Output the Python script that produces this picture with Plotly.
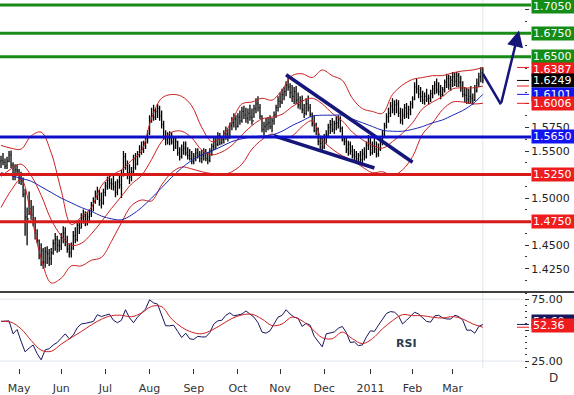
import pandas as pd
import plotly.graph_objects as go

# ---------------- data (GBP/USD daily) ----------------
dates = pd.bdate_range("2010-04-20", "2011-03-22")

highs = [
1.5450,1.5480,1.5420,1.5440,1.5500,1.5505,1.5380,1.5360,1.5360,
1.5310,1.5280,1.5220,1.5100,1.4900,1.5070,1.4980,1.4920,1.4800,1.4670,
1.4560,1.4520,1.4470,1.4480,1.4490,1.4460,1.4470,1.4560,1.4630,1.4600,1.4560,
1.4630,1.4700,1.4690,1.4600,1.4520,1.4530,1.4650,1.4690,1.4750,1.4770,
1.4840,1.4880,1.4860,1.4850,1.4880,1.4960,1.5010,1.5080,1.5120,1.5090,
1.5060,1.5100,1.5170,1.5230,1.5240,1.5210,1.5240,1.5180,1.5200,1.5240,
1.5300,1.5500,1.5480,1.5400,1.5360,1.5330,1.5460,1.5480,1.5500,1.5560,
1.5600,1.5610,1.5640,1.5720,1.5880,1.5960,1.5990,1.5960,1.6000,1.5980,
1.5930,1.5820,1.5720,1.5700,1.5710,1.5700,1.5660,1.5650,1.5610,1.5540,
1.5570,1.5600,1.5600,1.5540,1.5520,1.5500,1.5480,1.5530,1.5530,1.5500,
1.5510,1.5530,1.5520,1.5490,1.5530,1.5580,1.5640,1.5650,1.5700,1.5690,
1.5650,1.5720,1.5760,1.5740,1.5800,1.5860,1.5900,1.5880,1.5900,1.5930,
1.5970,1.5980,1.5960,1.5950,1.5990,1.5950,1.5990,1.6060,1.6080,1.6000,
1.5880,1.5810,1.5850,1.5860,1.5880,1.5850,1.5920,1.5990,1.6080,1.6120,
1.6160,1.6180,1.6240,1.6300,1.6220,1.6200,1.6180,1.6190,1.6120,1.6080,
1.6090,1.6000,1.6060,1.6090,1.6000,1.5910,1.5880,1.5800,1.5750,1.5660,
1.5640,1.5680,1.5720,1.5790,1.5830,1.5850,1.5820,1.5870,1.5880,1.5870,
1.5760,1.5660,1.5640,1.5610,1.5600,1.5560,1.5520,1.5500,1.5480,1.5500,
1.5520,1.5540,1.5600,1.5670,1.5640,1.5600,1.5650,1.5600,1.5580,1.5640,
1.5720,1.5800,1.5900,1.5960,1.6020,1.6060,1.6040,1.6050,1.6040,1.5960,
1.5950,1.6000,1.6010,1.5980,1.6030,1.6080,1.6230,1.6270,1.6200,1.6180,
1.6140,1.6120,1.6160,1.6100,1.6150,1.6200,1.6240,1.6270,1.6230,1.6200,
1.6180,1.6260,1.6320,1.6310,1.6300,1.6340,1.6330,1.6340,1.6330,1.6300,
1.6240,1.6180,1.6170,1.6160,1.6190,1.6110,1.6200,1.6270,1.6330,1.6390,
1.6387]

lows = [
1.5320,1.5350,1.5310,1.5310,1.5380,1.5320,1.5190,1.5190,1.5240,
1.5150,1.5140,1.5010,1.4600,1.4500,1.4820,1.4770,1.4700,1.4560,1.4520,
1.4350,1.4280,1.4250,1.4260,1.4300,1.4280,1.4290,1.4400,1.4440,1.4420,1.4430,
1.4450,1.4520,1.4490,1.4420,1.4370,1.4370,1.4450,1.4520,1.4540,1.4620,
1.4680,1.4730,1.4700,1.4710,1.4740,1.4800,1.4860,1.4940,1.4980,1.4920,
1.4890,1.4930,1.5020,1.5090,1.5100,1.5090,1.5080,1.5010,1.5030,1.5100,
1.5000,1.5230,1.5300,1.5200,1.5150,1.5180,1.5250,1.5300,1.5350,1.5430,
1.5460,1.5480,1.5520,1.5580,1.5670,1.5800,1.5820,1.5830,1.5850,1.5820,
1.5740,1.5620,1.5560,1.5570,1.5560,1.5570,1.5500,1.5520,1.5450,1.5400,
1.5420,1.5460,1.5450,1.5410,1.5400,1.5360,1.5360,1.5390,1.5420,1.5380,
1.5370,1.5400,1.5390,1.5360,1.5380,1.5450,1.5510,1.5520,1.5550,1.5560,
1.5570,1.5580,1.5620,1.5600,1.5630,1.5720,1.5750,1.5720,1.5750,1.5780,
1.5800,1.5840,1.5800,1.5790,1.5820,1.5780,1.5850,1.5900,1.5920,1.5840,
1.5700,1.5670,1.5700,1.5720,1.5730,1.5700,1.5780,1.5850,1.5920,1.5960,
1.6000,1.6040,1.6080,1.6140,1.6060,1.6020,1.6000,1.6000,1.5950,1.5940,
1.5900,1.5850,1.5880,1.5920,1.5860,1.5760,1.5700,1.5670,1.5560,1.5520,
1.5500,1.5520,1.5580,1.5640,1.5680,1.5700,1.5680,1.5720,1.5740,1.5700,
1.5600,1.5560,1.5480,1.5450,1.5460,1.5420,1.5390,1.5380,1.5360,1.5370,
1.5360,1.5400,1.5420,1.5510,1.5450,1.5460,1.5480,1.5430,1.5440,1.5500,
1.5560,1.5650,1.5740,1.5800,1.5860,1.5900,1.5880,1.5900,1.5860,1.5790,
1.5780,1.5840,1.5850,1.5840,1.5880,1.5950,1.6040,1.6110,1.6060,1.6020,
1.6000,1.5990,1.6020,1.5990,1.6020,1.6060,1.6100,1.6110,1.6090,1.6050,
1.6080,1.6120,1.6170,1.6150,1.6140,1.6180,1.6190,1.6180,1.6180,1.6130,
1.6070,1.6020,1.6000,1.6000,1.6010,1.5990,1.6030,1.6120,1.6180,1.6230,
1.6220]

closes = [
1.5400,1.5380,1.5340,1.5390,1.5460,1.5350,1.5230,1.5300,1.5290,
1.5210,1.5180,1.5040,1.4800,1.4780,1.4890,1.4820,1.4740,1.4620,1.4550,
1.4400,1.4440,1.4320,1.4430,1.4410,1.4360,1.4420,1.4520,1.4560,1.4500,1.4490,
1.4580,1.4630,1.4540,1.4460,1.4420,1.4470,1.4600,1.4560,1.4710,1.4680,
1.4790,1.4810,1.4740,1.4800,1.4830,1.4920,1.4960,1.5050,1.5040,1.4980,
1.4950,1.5060,1.5130,1.5190,1.5160,1.5150,1.5120,1.5060,1.5170,1.5140,
1.5250,1.5440,1.5350,1.5270,1.5220,1.5280,1.5420,1.5360,1.5460,1.5510,
1.5540,1.5580,1.5600,1.5690,1.5850,1.5900,1.5860,1.5920,1.5950,1.5870,
1.5780,1.5640,1.5620,1.5640,1.5630,1.5600,1.5540,1.5600,1.5480,1.5440,
1.5510,1.5530,1.5480,1.5450,1.5420,1.5390,1.5440,1.5480,1.5460,1.5420,
1.5450,1.5490,1.5420,1.5400,1.5500,1.5550,1.5600,1.5570,1.5660,1.5590,
1.5620,1.5690,1.5680,1.5650,1.5770,1.5800,1.5840,1.5760,1.5860,1.5820,
1.5920,1.5880,1.5850,1.5900,1.5860,1.5820,1.5950,1.6000,1.5960,1.5870,
1.5730,1.5760,1.5780,1.5800,1.5760,1.5820,1.5880,1.5960,1.6030,1.6020,
1.6100,1.6130,1.6200,1.6180,1.6120,1.6080,1.6130,1.6040,1.5990,1.6030,
1.5940,1.5900,1.6000,1.5960,1.5890,1.5790,1.5720,1.5740,1.5600,1.5580,
1.5540,1.5640,1.5670,1.5750,1.5780,1.5730,1.5790,1.5800,1.5830,1.5740,
1.5620,1.5600,1.5520,1.5570,1.5500,1.5460,1.5440,1.5420,1.5450,1.5410,
1.5470,1.5440,1.5560,1.5600,1.5480,1.5550,1.5520,1.5470,1.5520,1.5600,
1.5680,1.5770,1.5860,1.5900,1.5980,1.5940,1.5990,1.6000,1.5900,1.5830,
1.5880,1.5960,1.5900,1.5940,1.6000,1.6050,1.6180,1.6160,1.6110,1.6080,
1.6040,1.6080,1.6050,1.6060,1.6110,1.6160,1.6200,1.6150,1.6130,1.6100,
1.6150,1.6230,1.6270,1.6200,1.6250,1.6290,1.6240,1.6300,1.6230,1.6170,
1.6100,1.6090,1.6050,1.6080,1.6060,1.6040,1.6140,1.6220,1.6290,1.6330,
1.6249]
first_open = 1.5390

# Indicators read every 5 bars
bb_upper = [1.556,1.553,1.552,1.566,1.570,1.548,1.508,1.472,1.480,1.490,
            1.513,1.524,1.530,1.540,1.550,1.585,1.606,1.610,1.608,1.598,
            1.575,1.560,1.565,1.582,1.600,1.602,1.606,1.604,1.615,1.630,
            1.632,1.628,1.636,1.630,1.625,1.606,1.595,1.592,1.590,1.610,
            1.620,1.626,1.628,1.630,1.630,1.633,1.635,1.636,1.6387]
bb_mid = [1.523,1.531,1.536,1.524,1.503,1.477,1.460,1.450,1.452,1.462,
          1.475,1.489,1.502,1.515,1.524,1.541,1.560,1.570,1.571,1.564,
          1.551,1.546,1.549,1.556,1.567,1.577,1.584,1.586,1.589,1.597,
          1.603,1.606,1.600,1.590,1.582,1.570,1.562,1.556,1.553,1.560,
          1.569,1.580,1.595,1.602,1.608,1.616,1.617,1.617,1.619]
bb_lower = [1.490,1.508,1.520,1.482,1.436,1.410,1.415,1.428,1.428,1.434,
            1.437,1.454,1.474,1.492,1.498,1.497,1.514,1.527,1.533,1.531,
            1.528,1.526,1.525,1.528,1.536,1.552,1.562,1.568,1.564,1.566,
            1.576,1.582,1.562,1.552,1.545,1.540,1.533,1.527,1.528,1.524,
            1.530,1.544,1.568,1.580,1.594,1.602,1.602,1.600,1.6006]
sma50 = [1.527,1.524,1.521,1.518,1.512,1.506,1.500,1.495,1.490,1.486,
         1.481,1.478,1.477,1.482,1.490,1.500,1.511,1.522,1.532,1.540,
         1.546,1.550,1.555,1.560,1.563,1.565,1.566,1.567,1.571,1.577,
         1.582,1.587,1.588,1.588,1.588,1.584,1.580,1.576,1.572,1.571,
         1.571,1.573,1.576,1.580,1.583,1.588,1.593,1.600,1.6101]

# RSI read every 2 bars, its signal every 5 bars
rsi = [57,57,57.5,47,50.5,41,32.5,35.5,38,31,
       26,34,35,38,40,43.5,47,43,46,52,
       55,55.5,56,57,62.5,61,62,63,58,56,
       58,66.5,60,56,60.5,64,67,74.5,72,71,
       63,53.5,53.5,54,49,44,47.5,43,42.5,45,
       44.5,44.5,48,55,57.5,58,62,64,61.5,62,
       63,65.5,63,60.5,56,48.5,47.5,49.5,55,60.5,
       62,66.5,63,60.5,59.5,53,55.5,54,45,40.5,
       36.5,47,48,48.5,51.5,53,48,40,40.5,37.5,
       38,44.5,49.5,49,54,59,63.5,65,64.5,61.5,
       55,58,61,64.5,63,60,57,56.5,61.5,62,
       60,59,59,62,61,58,50,50,47.5,53,
       54.6]
rsi_signal = [57.2,56.4,51.1,41.7,33.8,32.9,38.7,43.9,48.9,54.2,
              58.8,61.7,62,60.8,63.9,69.2,69,59,52.4,48.4,
              47.1,50,54.6,59.4,62.3,62.8,59,53.7,55,60.6,
              57.5,51,43.9,43.1,48.4,43.1,39.1,43.1,51.1,57.7,
              62.5,61.7,61.7,60.4,59.8,60.9,59,55,52.36]

assert len(dates) == len(highs) == len(lows) == len(closes) == 241
for arr in (bb_upper, bb_mid, bb_lower, sma50, rsi_signal):
    assert len(arr) == 49
assert len(rsi) == 121

opens = [first_open] + closes[:-1]
ind_dates = dates[::5]
rsi_dates = dates[::2]

# horizontal levels and their labels
levels = [1.7050, 1.6750, 1.6500, 1.5650, 1.5250, 1.4750]
level_colors = ["#178a17", "#178a17", "#178a17", "#0d10c8", "#d61a1a", "#d61a1a"]
level_box = ["#158c15", "#158c15", "#158c15", "#1414f0", "#ee1c1c", "#ee1c1c"]
level_text = ["1.7050", "1.6750", "1.6500", "1.5650", "1.5250", "1.4750"]
level_shift = [-2, 0, 0, 0, 0, 0]

# price-axis tick labels (those hidden under the level boxes left blank)
price_ticks = [1.400, 1.425, 1.450, 1.475, 1.500, 1.525, 1.550, 1.575,
               1.600, 1.625, 1.650, 1.675, 1.700]
price_tick_text = ["", "1.4250", "1.4500", "", "1.5000", "", "1.5500", "1.5750",
                   "", "", "", "", ""]
rsi_ticks = [25, 50, 75]
rsi_tick_text = ["25.00", "", "75.00"]

# trend lines (analyst drawing)
wedge_top_x = ["2010-11-04", "2011-02-01"]
wedge_top_y = [1.6310, 1.5380]
wedge_bot_x = ["2010-10-27", "2011-01-05"]
wedge_bot_y = [1.5660, 1.5320]
proj_x = ["2011-03-22", "2011-04-04"]
proj_y = [1.6320, 1.5996]
arrow_tip = ("2011-04-15", 1.6780)

month_ticks = ["2010-05-03", "2010-06-01", "2010-07-01", "2010-08-02", "2010-09-01",
               "2010-10-01", "2010-11-01", "2010-12-01", "2011-01-03", "2011-02-01",
               "2011-03-01"]
month_labels = ["May", "Jun", "Jul", "Aug", "Sep", "Oct", "Nov", "Dec", "2011", "Feb", "Mar"]

# ---------------- figure ----------------
W, H = 574, 395
ML, MR, MT, MB = 0, 50, 0, 22
PW = W - ML - MR
PH = H - MT - MB
split = 77 / PH
FONT = "DejaVu Sans"
NAVY = "#15157a"
BBRED = "#cc2020"

fig = go.Figure()

fig.add_trace(go.Ohlc(
    x=dates, open=opens, high=highs, low=lows, close=closes,
    increasing=dict(line=dict(color="black", width=1.3)),
    decreasing=dict(line=dict(color="black", width=1.3)),
    tickwidth=0.4, xaxis="x", yaxis="y", showlegend=False, hoverinfo="skip"))

for arr in (bb_upper, bb_mid, bb_lower):
    fig.add_trace(go.Scatter(x=ind_dates, y=arr, mode="lines", line_shape="spline",
                             line=dict(color=BBRED, width=1), xaxis="x", yaxis="y",
                             showlegend=False, hoverinfo="skip"))
fig.add_trace(go.Scatter(x=ind_dates, y=sma50, mode="lines", line_shape="spline",
                         line=dict(color="#1c28b4", width=1), xaxis="x", yaxis="y",
                         showlegend=False, hoverinfo="skip"))

for xs, ys in ((wedge_top_x, wedge_top_y), (wedge_bot_x, wedge_bot_y)):
    fig.add_trace(go.Scatter(x=xs, y=ys, mode="lines", line=dict(color=NAVY, width=3.5),
                             xaxis="x", yaxis="y", showlegend=False, hoverinfo="skip"))
fig.add_trace(go.Scatter(x=proj_x, y=proj_y, mode="lines", line=dict(color=NAVY, width=2.5),
                         xaxis="x", yaxis="y", showlegend=False, hoverinfo="skip"))

fig.add_trace(go.Scatter(x=rsi_dates, y=rsi, mode="lines", line=dict(color="#16165e", width=1),
                         xaxis="x2", yaxis="y2", showlegend=False, hoverinfo="skip"))
fig.add_trace(go.Scatter(x=ind_dates, y=rsi_signal, mode="lines", line=dict(color=BBRED, width=1),
                         xaxis="x2", yaxis="y2", showlegend=False, hoverinfo="skip",
                         line_shape="spline"))

shapes = []
x_box = 531 / PW
for lv, col in zip(levels, level_colors):
    shapes.append(dict(type="line", xref="paper", yref="y", x0=0, x1=x_box, y0=lv, y1=lv,
                       line=dict(color=col, width=3), layer="above"))
for lv in (75, 25):
    shapes.append(dict(type="line", xref="paper", yref="y2", x0=0, x1=1, y0=lv, y1=lv,
                       line=dict(color="#dde5ee", width=1), layer="below"))
shapes.append(dict(type="line", xref="x", yref="paper", x0=dates[-1], x1=dates[-1],
                   y0=0, y1=1, line=dict(color="#dfe6ee", width=1), layer="below"))
shapes.append(dict(type="line", xref="paper", yref="paper", x0=0, x1=W / PW,
                   y0=split, y1=split, line=dict(color="black", width=1.5)))
# last-value markers beside the axis
mk0, mk1 = 517 / PW, 529 / PW
for val, col in ((bb_upper[-1], "#ee1c1c"), (closes[-1], "black"), (bb_mid[-1], "#ee1c1c"),
                 (sma50[-1], "#1414f0"), (bb_lower[-1], "#ee1c1c")):
    shapes.append(dict(type="line", xref="paper", yref="y", x0=mk0, x1=mk1, y0=val, y1=val,
                       line=dict(color=col, width=1)))
for val, col in ((rsi[-1], "#16165e"), (rsi_signal[-1], "#ee1c1c")):
    shapes.append(dict(type="line", xref="paper", yref="y2", x0=mk0, x1=mk1, y0=val, y1=val,
                       line=dict(color=col, width=1)))

annotations = []

def box(y, text, bg, yref="y", yshift=0):
    annotations.append(dict(xref="paper", yref=yref, x=x_box, y=y, xanchor="left",
                            yanchor="middle", text=text, showarrow=False, bgcolor=bg,
                            font=dict(family=FONT, size=11, color="white"),
                            width=41, height=11, borderpad=1, align="left", yshift=yshift))

for lv, bg, tx, sh in zip(levels, level_box, level_text, level_shift):
    box(lv, tx, bg, yshift=sh)
box(bb_upper[-1], f"{bb_upper[-1]:.4f}", "#ee1c1c", yshift=-2)
box(closes[-1], f"{closes[-1]:.4f}", "black")
box(sma50[-1], f"{sma50[-1]:.4f}", "#1414f0")
box(bb_lower[-1], f"{bb_lower[-1]:.4f}", "#ee1c1c")
box(rsi[-1], f"{rsi[-1]:.2f}", "#16165e", yref="y2", yshift=3)
box(rsi_signal[-1], f"{rsi_signal[-1]:.2f}", "#ee1c1c", yref="y2", yshift=2)

annotations.append(dict(xref="x", yref="y", axref="x", ayref="y",
                        x=arrow_tip[0], y=arrow_tip[1], ax=proj_x[1], ay=proj_y[1],
                        text="", showarrow=True, arrowhead=2, arrowsize=1.3,
                        arrowwidth=2.5, arrowcolor=NAVY, standoff=0))
annotations.append(dict(xref="paper", yref="paper", x=406 / PW, y=(PH - 348) / PH,
                        xanchor="center", yanchor="middle",
                        text="<b>RSI</b>", showarrow=False,
                        font=dict(family=FONT, size=11, color="#2e3d4c")))
annotations.append(dict(xref="paper", yref="paper", x=553 / PW, y=(PH - 383) / PH,
                        xanchor="center", yanchor="middle",
                        text="D", showarrow=False,
                        font=dict(family=FONT, size=12, color="#333333")))

xr = ["2010-04-19 12:00", "2011-04-19 12:00"]
rb = [dict(bounds=["sat", "mon"])]
fig.update_layout(
    width=W, height=H, margin=dict(l=ML, r=MR, t=MT, b=MB),
    paper_bgcolor="white", plot_bgcolor="white",
    font=dict(family=FONT, size=11, color="#222222"),
    showlegend=False,
    xaxis=dict(domain=[0, 1], anchor="y", type="date", range=xr, rangebreaks=rb,
               showticklabels=False, ticks="", showgrid=False, zeroline=False,
               showline=False, rangeslider=dict(visible=False)),
    xaxis2=dict(domain=[0, 1], anchor="y2", type="date", range=xr, rangebreaks=rb,
                matches="x", tickmode="array", tickvals=month_ticks, ticktext=month_labels,
                ticks="outside", ticklen=5, tickcolor="#333333", tickwidth=1,
                ticklabelstandoff=5,
                tickfont=dict(family=FONT, size=11, color="#333333"),
                showgrid=False, zeroline=False, showline=False),
    yaxis=dict(domain=[split, 1], anchor="x", side="right", range=[1.4003, 1.7103],
               tickmode="array", tickvals=price_ticks, ticktext=price_tick_text,
               ticks="outside", ticklen=4,
               tickcolor="#333333", showgrid=False, zeroline=False, showline=False,
               tickfont=dict(family=FONT, size=11, color="#222222"),
               minor=dict(dtick=0.0125, ticks="outside", ticklen=2, tickcolor="#333333")),
    yaxis2=dict(domain=[0, split], anchor="x2", side="right", range=[19.4, 80.8],
                tickmode="array", tickvals=rsi_ticks, ticktext=rsi_tick_text,
                ticks="outside", ticklen=4,
                tickcolor="#333333", showgrid=False, zeroline=False, showline=False,
                tickfont=dict(family=FONT, size=11, color="#222222"),
                minor=dict(dtick=5, ticks="outside", ticklen=2, tickcolor="#333333")),
    shapes=shapes, annotations=annotations,
)

fig.write_html("out.html", config={"displayModeBar": False, "staticPlot": True},
               post_script="document.body.style.margin='0';document.body.style.overflow='hidden';")
